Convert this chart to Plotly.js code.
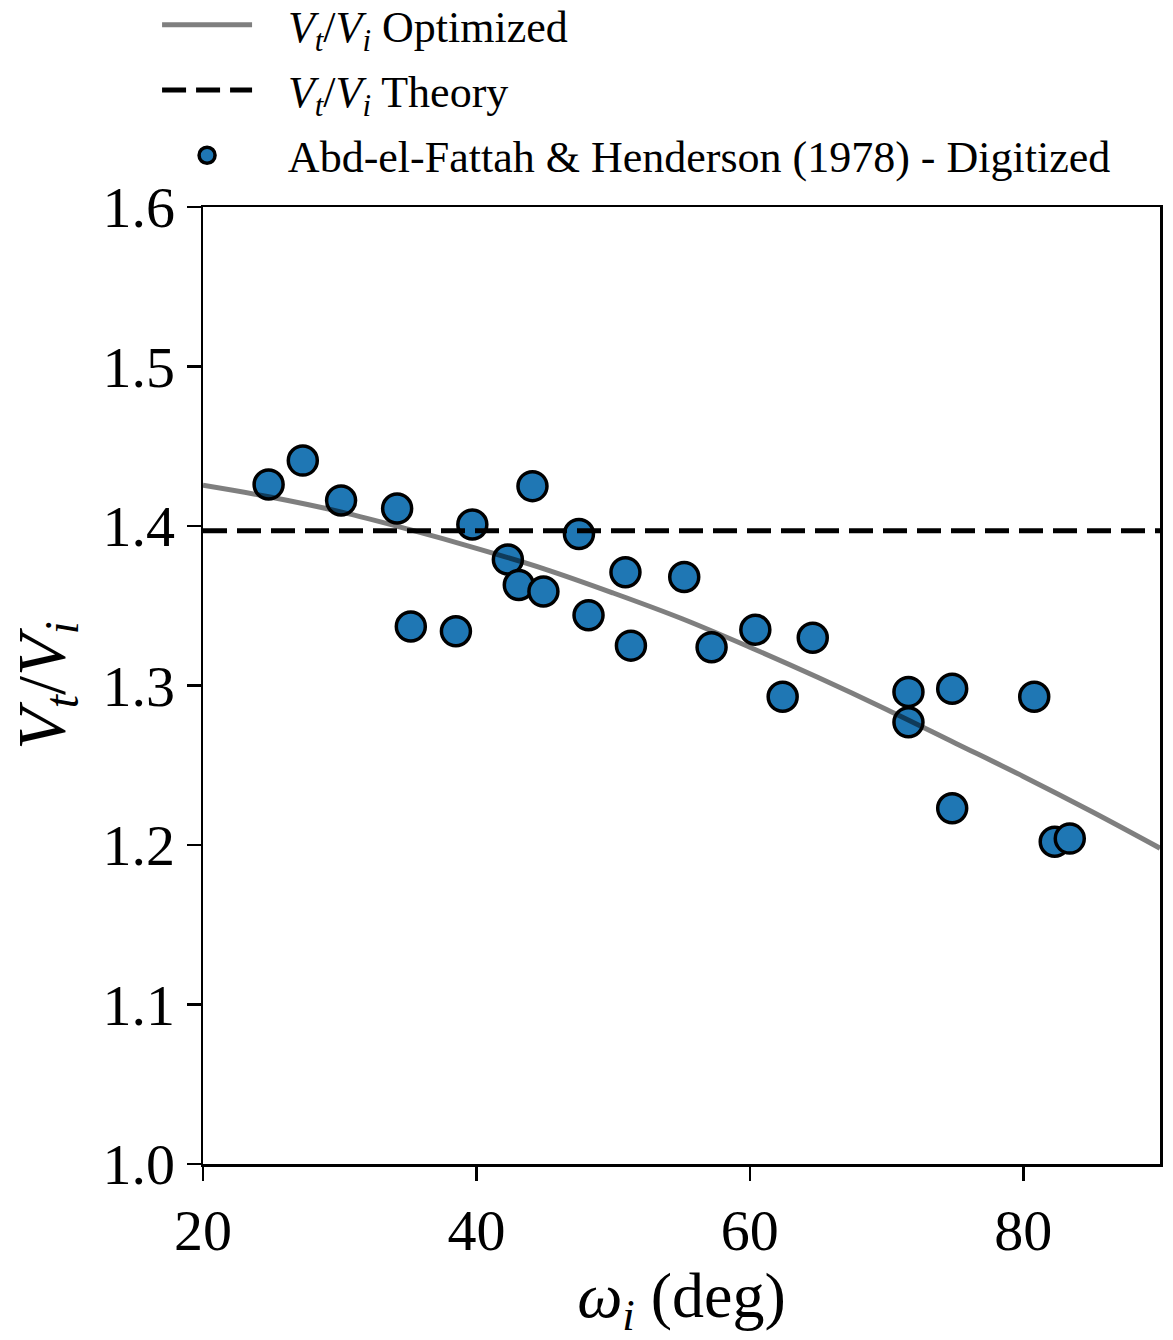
<!DOCTYPE html>
<html>
<head>
<meta charset="utf-8">
<script src="https://cdn.plot.ly/plotly-3.0.1.min.js"></script>
<style>html,body{margin:0;padding:0;background:#fff;}#chart{width:1173px;height:1340px;}</style>
</head>
<body>
<div id="chart"></div>
<script>
const omegaData = [24.8, 27.3, 30.1, 34.2, 35.2, 38.5, 39.7, 42.3, 43.1, 44.1, 44.9, 47.5, 48.2, 50.9, 51.3, 55.2, 57.2, 60.4, 62.4, 64.6, 71.6, 71.6, 74.8, 74.8, 80.8, 82.3, 83.4];
const ratioData = [1.426, 1.441, 1.416, 1.411, 1.337, 1.334, 1.401, 1.379, 1.363, 1.425, 1.359, 1.395, 1.344, 1.371, 1.325, 1.368, 1.324, 1.335, 1.293, 1.330, 1.296, 1.277, 1.298, 1.223, 1.293, 1.202, 1.204];

// Optimized curve
const omegaFit = [20, 25, 30, 35, 40, 45, 50, 55, 60, 65, 70, 75, 80, 85, 90];
const ratioFit = [1.4255, 1.418, 1.409, 1.398, 1.386, 1.373, 1.358, 1.342, 1.324, 1.305, 1.285, 1.264, 1.243, 1.221, 1.198];

// Theory
const theoryX = [20, 90];
const theoryValue = 1.397;
const theoryY = theoryX.map(() => theoryValue);

const xTicks = [20, 40, 60, 80];
const yTicks = [1.0, 1.1, 1.2, 1.3, 1.4, 1.5, 1.6];
const yTickText = ['1.0', '1.1', '1.2', '1.3', '1.4', '1.5', '1.6'];

const FONT = '"Liberation Serif", "DejaVu Serif", serif';
const SP = '\u2002\u2009';

const traces = [
  {
    x: omegaData, y: ratioData, mode: 'markers', type: 'scatter',
    name: SP + 'Abd-el-Fattah &amp; Henderson (1978) - Digitized',
    marker: {color: '#1f77b4', size: 29, line: {color: '#000', width: 3.5}},
    legendrank: 3, legendgroup: 'c'
  },
  {
    x: omegaFit, y: ratioFit, mode: 'lines', type: 'scatter',
    name: SP + '<i>V</i><sub><i>t</i></sub>/<i>V</i><sub><i>i</i></sub> Optimized',
    line: {color: 'rgba(0,0,0,0.5)', width: 5, shape: 'spline'},
    legendrank: 1, legendgroup: 'a'
  },
  {
    x: theoryX, y: theoryY, mode: 'lines', type: 'scatter',
    name: SP + '<i>V</i><sub><i>t</i></sub>/<i>V</i><sub><i>i</i></sub> Theory',
    line: {color: '#000', width: 5, dash: '24px,10px'},
    legendrank: 2, legendgroup: 'b'
  }
];

const layout = {
  width: 1173, height: 1340,
  paper_bgcolor: '#fff', plot_bgcolor: '#fff',
  margin: {l: 203, r: 13, t: 207, b: 176, autoexpand: false},
  font: {family: FONT, color: '#000', size: 40},
  showlegend: true,
  legend: {
    x: -0.048, y: 1.227, xanchor: 'left', yanchor: 'top',
    font: {family: FONT, size: 44, color: '#000'},
    bgcolor: 'rgba(0,0,0,0)', itemwidth: 90, tracegroupgap: 5,
    traceorder: 'grouped'
  },
  xaxis: {
    range: [20, 90], tickvals: xTicks, ticktext: xTicks.map(String),
    showgrid: false, zeroline: false,
    showline: true, linecolor: '#000', linewidth: 2.5, mirror: true,
    ticks: 'outside', ticklen: 14, tickwidth: 2.5, tickcolor: '#000',
    tickfont: {family: FONT, size: 58, color: '#000'},
    title: {text: '<i>ω</i><sub><i>i</i></sub> (deg)', font: {family: FONT, size: 64, color: '#000'}, standoff: 18}
  },
  yaxis: {
    range: [1.0, 1.6], tickvals: yTicks, ticktext: yTickText,
    showgrid: false, zeroline: false,
    showline: true, linecolor: '#000', linewidth: 2.5, mirror: true,
    ticks: 'outside', ticklen: 14, tickwidth: 2.5, tickcolor: '#000',
    tickfont: {family: FONT, size: 58, color: '#000'},
    title: {text: '<i>V</i><sub><i>t</i></sub>/<i>V</i><sub><i>i</i></sub>', font: {family: FONT, size: 68, color: '#000'}, standoff: 16}
  }
};

Plotly.newPlot('chart', traces, layout, {displayModeBar: false, staticPlot: true});
</script>
</body>
</html>
